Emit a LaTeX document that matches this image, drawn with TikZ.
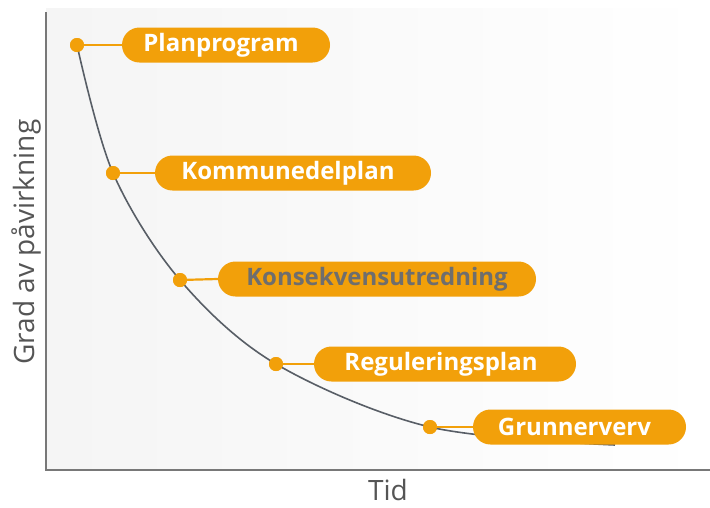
\documentclass[tikz,border=0pt]{standalone}
\usepackage{fontspec}
\setmainfont{Open Sans}
\newfontfamily\pillfont{Open Sans}
\definecolor{pillorange}{RGB}{242,160,10}
\definecolor{curvegray}{RGB}{88,94,102}
\definecolor{axisgray}{RGB}{120,120,120}
\definecolor{labelgray}{RGB}{85,85,85}
\definecolor{darktext}{RGB}{110,110,110}
\begin{document}
\begin{tikzpicture}[x=1pt,y=-1pt,
  pill/.style={fill=pillorange, rounded corners=17.5pt, minimum height=35pt, inner sep=0pt,
    text=white, font=\pillfont\bfseries\fontsize{24}{26}\selectfont},
  dot/.style={circle, fill=pillorange, minimum size=14pt, inner sep=0pt},
  conn/.style={draw=pillorange, line width=2.2pt},
  axislabel/.style={text=labelgray, font=\fontsize{28}{30}\selectfont}]
\useasboundingbox (0,0) rectangle (710,507);
\fill[white] (0,0) rectangle (710,507);
\shade[left color=gray!8, right color=white] (46,8) rectangle (710,470);
\draw[axisgray, line width=1.2pt] (46,12) -- (46,470) -- (710,470);
% dots
\node[dot] (d1) at (77,45) {};
\node[dot] (d2) at (113,173) {};
\node[dot] (d3) at (180,280) {};
\node[dot] (d4) at (276,364) {};
\node[dot] (d5) at (430,427) {};
\coordinate (cend) at (615,445);
% curve
\draw[curvegray, line width=1.6pt] plot[smooth, tension=0.55] coordinates {(d1.center) (d2.center) (d3.center) (d4.center) (d5.center) (cend)};
% pills
\node[pill, minimum width=208pt] (p1) at (226,45) {Planprogram\hspace*{10pt}};
\node[pill, minimum width=276pt] (p2) at (293,173) {Kommunedelplan\hspace*{10pt}};
\node[pill, minimum width=318pt, text=darktext] (p3) at (377,279) {Konsekvensutredning};
\node[pill, minimum width=262pt] (p4) at (445,364) {Reguleringsplan\hspace*{8pt}};
\node[pill, minimum width=213pt] (p5) at (579.5,427) {Grunnerverv\hspace*{10pt}};
% connectors
\draw[conn] (d1) -- (p1.west);
\draw[conn] (d2) -- (p2.west);
\draw[conn] (d3) -- (p3.west);
\draw[conn] (d4) -- (p4.west);
\draw[conn] (d5) -- (p5.west);
\node[dot] at (d1) {};
\node[dot] at (d2) {};
\node[dot] at (d3) {};
\node[dot] at (d4) {};
\node[dot] at (d5) {};
% axis labels
\node[axislabel, rotate=90] (ylab) at (26,242) {Grad av påvirkning};
\node[axislabel] (xlab) at (388,490) {Tid};
\end{tikzpicture}
\end{document}
